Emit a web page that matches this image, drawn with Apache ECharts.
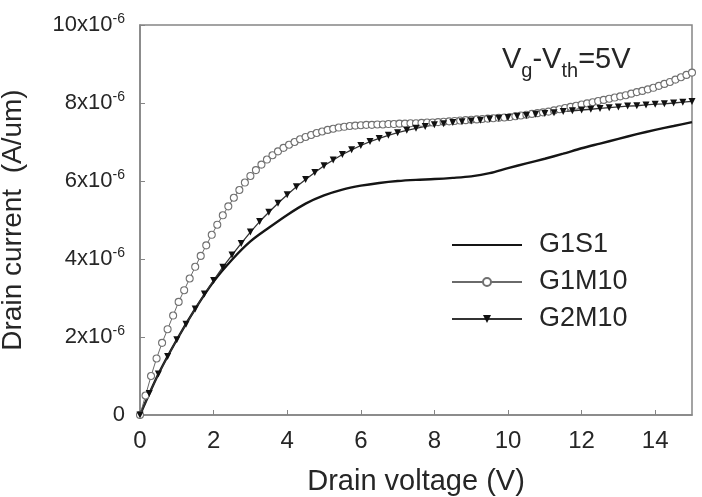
<!DOCTYPE html>
<html>
<head>
<meta charset="utf-8">
<script src="https://cdn.jsdelivr.net/npm/echarts@6/dist/echarts.min.js"></script>
<style>
  html, body { margin: 0; padding: 0; background: #fff; }
  #chart { width: 702px; height: 497px; }
</style>
</head>
<body>
<div id="chart"></div>
<script>
// drain current in units of 1e-6 A/um
const vG1S1 = [0, 0.5, 1, 1.5, 2, 2.5, 3, 3.5, 4, 4.5, 5, 5.5, 6, 6.5, 7, 7.5, 8, 8.5, 9, 9.5, 10, 10.5, 11, 11.5, 12, 12.5, 13, 13.5, 14, 14.5, 15];
const iG1S1 = [0, 1.05, 1.93, 2.72, 3.42, 3.98, 4.45, 4.8, 5.13, 5.42, 5.63, 5.78, 5.88, 5.95, 6.0, 6.03, 6.05, 6.08, 6.12, 6.2, 6.33, 6.45, 6.57, 6.7, 6.84, 6.96, 7.08, 7.2, 7.31, 7.41, 7.51];

const vG1M10 = [0, 0.15, 0.3, 0.45, 0.6, 0.75, 0.9, 1.05, 1.2, 1.35, 1.5, 1.65, 1.8, 1.95, 2.1, 2.25, 2.4, 2.55, 2.7, 2.85,
  3, 3.15, 3.3, 3.45, 3.6, 3.75, 3.9, 4.05, 4.2, 4.35, 4.5, 4.65, 4.8, 4.95, 5.1, 5.25, 5.4, 5.55, 5.7, 5.85,
  6, 6.15, 6.3, 6.45, 6.6, 6.75, 6.9, 7.05, 7.2, 7.35, 7.5, 7.65, 7.8, 7.95, 8.1, 8.25, 8.4, 8.55, 8.7, 8.85,
  9, 9.15, 9.3, 9.45, 9.6, 9.75, 9.9, 10.05, 10.2, 10.35, 10.5, 10.65, 10.8, 10.95, 11.1, 11.25, 11.4, 11.55, 11.7, 11.85,
  12, 12.15, 12.3, 12.45, 12.6, 12.75, 12.9, 13.05, 13.2, 13.35, 13.5, 13.65, 13.8, 13.95, 14.1, 14.25, 14.4, 14.55, 14.7, 14.85, 15];
const iG1M10 = [0, 0.5, 1.0, 1.45, 1.85, 2.2, 2.55, 2.9, 3.2, 3.5, 3.8, 4.08, 4.35, 4.62, 4.88, 5.12, 5.35, 5.57, 5.77, 5.96,
  6.13, 6.28, 6.42, 6.55, 6.66, 6.76, 6.85, 6.93, 7.0, 7.07, 7.13, 7.18, 7.23, 7.27, 7.31, 7.34, 7.37, 7.39, 7.41, 7.42,
  7.43, 7.44, 7.44, 7.45, 7.45, 7.46, 7.46, 7.47, 7.47, 7.48, 7.48, 7.49, 7.5, 7.5, 7.51, 7.52, 7.53, 7.54, 7.55, 7.56,
  7.57, 7.58, 7.59, 7.6, 7.61, 7.62, 7.63, 7.64, 7.66, 7.68, 7.7, 7.72, 7.74, 7.76, 7.78, 7.81, 7.84, 7.87, 7.9, 7.93,
  7.96, 7.99, 8.02, 8.05, 8.08, 8.11, 8.14, 8.17, 8.2, 8.24, 8.28, 8.31, 8.35, 8.39, 8.44, 8.49, 8.54, 8.6, 8.66, 8.72, 8.78];

const vG2M10 = [0, 0.25, 0.5, 0.75, 1, 1.25, 1.5, 1.75, 2, 2.25, 2.5, 2.75, 3, 3.25, 3.5, 3.75, 4, 4.25, 4.5, 4.75,
  5, 5.25, 5.5, 5.75, 6, 6.25, 6.5, 6.75, 7, 7.25, 7.5, 7.75, 8, 8.25, 8.5, 8.75, 9, 9.25, 9.5, 9.75,
  10, 10.25, 10.5, 10.75, 11, 11.25, 11.5, 11.75, 12, 12.25, 12.5, 12.75, 13, 13.25, 13.5, 13.75, 14, 14.25, 14.5, 14.75, 15];
const iG2M10 = [0, 0.55, 1.05, 1.5, 1.93, 2.33, 2.72, 3.1, 3.45, 3.79, 4.1, 4.4, 4.69, 4.96, 5.2, 5.43, 5.65, 5.85, 6.04, 6.22,
  6.39, 6.54, 6.68, 6.8, 6.91, 7.01, 7.09, 7.17, 7.24, 7.3, 7.35, 7.4, 7.44, 7.47, 7.5, 7.52, 7.54, 7.56, 7.59, 7.61,
  7.63, 7.66, 7.68, 7.71, 7.73, 7.75, 7.78, 7.8, 7.82, 7.84, 7.86, 7.88, 7.9, 7.92, 7.93, 7.95, 7.97, 7.98, 8.0, 8.02, 8.04];

const seriesNames = ['G1S1', 'G1M10', 'G2M10'];
const yTicks = [0, 2, 4, 6, 8, 10];
const xTicks = [0, 2, 4, 6, 8, 10, 12, 14];

const pairs = (xs, ys) => xs.map((x, i) => [x, ys[i]]);

const FONT = 'Liberation Sans, Arial, Helvetica, sans-serif';
const INK = '#262626';
const AXIS = '#858585';
const chart = echarts.init(document.getElementById('chart'));

const option = {
  backgroundColor: '#fff',
  animation: false,
  textStyle: { fontFamily: FONT },
  grid: {
    left: 140, right: 10, top: 25, bottom: 82,
    containLabel: false,
    outerBoundsMode: 'none',
    show: true, borderColor: AXIS, borderWidth: 1.5
  },
  legend: {
    data: [
      { name: seriesNames[0], itemStyle: { opacity: 0 } },
      { name: seriesNames[1] },
      { name: seriesNames[2] }
    ],
    orient: 'vertical',
    left: 446,
    top: 225,
    itemWidth: 70,
    itemHeight: 10,
    itemGap: 7,
    textStyle: { fontSize: 27, color: INK, fontFamily: FONT, padding: [0, 0, 0, 12], lineHeight: 30 }
  },
  graphic: [{
    type: 'text',
    left: 502,
    top: 45,
    style: {
      text: '{v|V}{s|g}{v|-V}{s|th}{v|=5V}',
      rich: {
        v: { fontSize: 29, fontFamily: FONT, fill: INK, lineHeight: 36, verticalAlign: 'top' },
        s: { fontSize: 20, fontFamily: FONT, fill: INK, lineHeight: 36, verticalAlign: 'bottom', padding: [16, 0, 0, 0] }
      }
    }
  }],
  xAxis: {
    type: 'value',
    min: 0, max: 15, interval: 2,
    name: 'Drain voltage (V)',
    nameLocation: 'middle',
    nameGap: 52,
    nameTextStyle: { fontSize: 29, color: INK, fontFamily: FONT },
    axisLine: { lineStyle: { color: AXIS, width: 1.5 } },
    axisTick: { inside: true, length: 5, lineStyle: { color: AXIS } },
    axisLabel: {
      showMaxLabel: false,
      fontSize: 24, color: INK, margin: 14, fontFamily: FONT,
      formatter: v => (xTicks.indexOf(v) >= 0 ? String(v) : '')
    },
    splitLine: { show: false }
  },
  yAxis: {
    type: 'value',
    min: 0, max: 10, interval: 2,
    name: 'Drain current  (A/um)',
    nameLocation: 'middle',
    nameGap: 113,
    nameTextStyle: { fontSize: 28, color: INK, fontFamily: FONT },
    axisLine: { lineStyle: { color: AXIS, width: 1.5 } },
    axisTick: { inside: true, length: 5, lineStyle: { color: AXIS } },
    axisLabel: {
      margin: 15,
      formatter: v => (yTicks.indexOf(v) < 0 ? '' : v === 0 ? '{n|0}' : '{n|' + v + 'x10}{s|-6}'),
      rich: {
        n: { fontSize: 22, color: INK, fontFamily: FONT, lineHeight: 26 },
        s: { fontSize: 14, color: INK, fontFamily: FONT, verticalAlign: 'top', lineHeight: 26, padding: [0, 0, 8, 0] }
      }
    },
    splitLine: { show: false }
  },
  series: [
    {
      name: seriesNames[0],
      type: 'line',
      data: pairs(vG1S1, iG1S1),
      smooth: 0.3,
      showSymbol: false,
      symbol: 'none',
      lineStyle: { color: '#151515', width: 2.4 },
      itemStyle: { color: '#151515' }
    },
    {
      name: seriesNames[1],
      type: 'line',
      data: pairs(vG1M10, iG1M10),
      symbol: 'circle',
      symbolSize: 7,
      showAllSymbol: true,
      lineStyle: { color: '#6a6a6a', width: 1 },
      itemStyle: { color: '#fff', borderColor: '#707070', borderWidth: 1.1 }
    },
    {
      name: seriesNames[2],
      type: 'line',
      data: pairs(vG2M10, iG2M10),
      symbol: 'triangle',
      symbolRotate: 180,
      symbolSize: 7,
      showAllSymbol: true,
      lineStyle: { color: '#333', width: 1.3 },
      itemStyle: { color: '#111' }
    }
  ]
};

chart.setOption(option);
</script>
</body>
</html>
